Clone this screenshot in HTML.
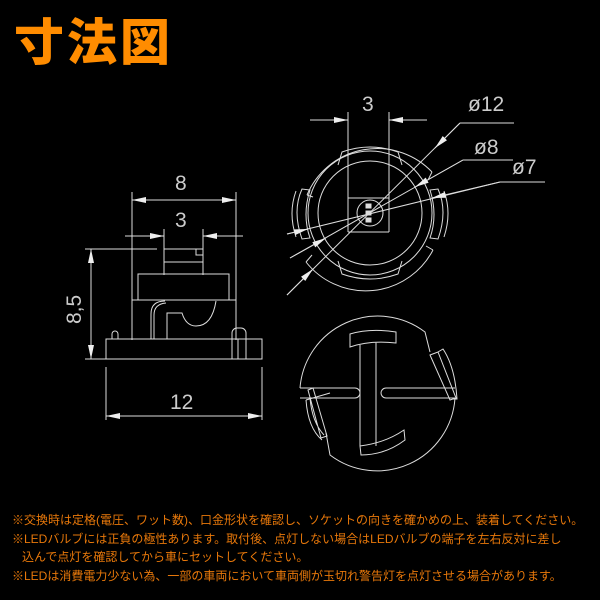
<!DOCTYPE html>
<html><head><meta charset="utf-8"><style>
html,body{margin:0;padding:0;background:#000;width:600px;height:600px;overflow:hidden}
.t{position:absolute;left:14px;top:8px;color:#ff8c00;font:900 50px "Noto Sans CJK JP",sans-serif;letter-spacing:3px;line-height:62px}
.n{position:absolute;left:12px;top:511px;color:#e8780a;font:12px "Liberation Sans","Noto Sans CJK JP",sans-serif;line-height:18.5px;white-space:nowrap}
</style></head><body>
<div class="t">寸法図</div>
<svg width="600" height="600" style="position:absolute;left:0;top:0" fill="none" stroke="#ddd" stroke-width="1">
<defs><marker id="a" markerWidth="14" markerHeight="6" refX="14" refY="3" orient="auto" markerUnits="userSpaceOnUse"><path d="M0,0L14,3L0,6z" fill="#eee" stroke="none"/></marker></defs>
<!-- left view -->
<line x1="132" y1="192" x2="132" y2="340"/><line x1="236" y1="192" x2="236" y2="340"/>
<line x1="184" y1="200" x2="132" y2="200" marker-end="url(#a)"/><line x1="184" y1="200" x2="236" y2="200" marker-end="url(#a)"/>
<line x1="164" y1="229" x2="164" y2="275"/><line x1="203" y1="229" x2="203" y2="275"/>
<line x1="125" y1="236" x2="164" y2="236" marker-end="url(#a)"/><line x1="243" y1="236" x2="203" y2="236" marker-end="url(#a)"/>
<line x1="85" y1="249" x2="157" y2="249"/><line x1="164" y1="249" x2="203" y2="249"/><line x1="164" y1="262" x2="203" y2="262"/>
<rect x="196" y="249" width="7" height="6"/>
<rect x="138" y="274" width="91" height="26"/>
<line x1="132" y1="300" x2="236" y2="300"/>
<rect x="106" y="339" width="156" height="20"/>
<line x1="85" y1="359" x2="262" y2="359"/>
<path d="M151,339V314Q151,301 165,301M154,339V315Q154,304 166,303"/>
<path d="M167,339V313H182Q186,326 196,326Q212,326 216,301"/>
<path d="M112,339v-5a3,3 0 0 1 6,0v5"/>
<path d="M232,339v-6a5,5 0 0 1 5,-5h4a5,5 0 0 1 5,5v6M232,339v20M238,339v20M246,339v20"/>
<line x1="91" y1="304" x2="91" y2="249" marker-end="url(#a)"/><line x1="91" y1="304" x2="91" y2="359" marker-end="url(#a)"/>
<line x1="106" y1="367" x2="106" y2="420"/><line x1="262" y1="367" x2="262" y2="420"/>
<line x1="184" y1="416" x2="106" y2="416" marker-end="url(#a)"/><line x1="184" y1="416" x2="262" y2="416" marker-end="url(#a)"/>
<g fill="#ccc" stroke="none" font-family="Liberation Sans" font-size="21">
<text x="175" y="190">8</text><text x="175" y="227">3</text><text x="170" y="409">12</text>
<text transform="translate(81,324) rotate(-90)">8,5</text>
<text x="362" y="111">3</text><text x="468" y="111">ø12</text><text x="474" y="154">ø8</text><text x="512" y="174">ø7</text>
</g>
<!-- top view -->
<path d="M307,195A76,76 0 0 1 432,172M433,250A76,76 0 0 1 306,262"/>
<path d="M307,195L313,197M432,172L428,180M306,262L312,255M433,250L426,246"/>
<circle cx="370" cy="213" r="62"/><circle cx="370" cy="213" r="52"/><circle cx="370" cy="213" r="13"/>
<path d="M338,165L342,152Q370,142 398,152L402,165M338,261L342,274Q370,284 398,274L402,261"/>
<path d="M302,189q-10,22 0,50l8,-1q-8,-23 0,-48zM296,191q-8,22 0,46M438,189q10,22 0,50l-8,-1q8,-23 0,-48zM444,191q8,22 0,46"/>
<line x1="348" y1="112" x2="348" y2="232"/><line x1="389" y1="112" x2="389" y2="232"/>
<line x1="348" y1="232" x2="389" y2="232"/><line x1="348" y1="198" x2="389" y2="198"/>
<line x1="310" y1="120" x2="348" y2="120" marker-end="url(#a)"/><line x1="427" y1="120" x2="389" y2="120" marker-end="url(#a)"/>
<rect x="366" y="204" width="5" height="4" fill="#ddd"/><rect x="366" y="211" width="5" height="4" fill="#ddd"/><rect x="366" y="218" width="5" height="4" fill="#ddd"/>
<line x1="460" y1="123" x2="514" y2="123"/><line x1="460" y1="123" x2="287" y2="295"/>
<line x1="463" y1="160" x2="513" y2="160"/><line x1="463" y1="160" x2="290" y2="258"/>
<line x1="500" y1="182" x2="545" y2="182"/><line x1="500" y1="182" x2="287" y2="234"/>
<line x1="460" y1="123" x2="435" y2="148" marker-end="url(#a)"/>
<line x1="463" y1="160" x2="415" y2="187" marker-end="url(#a)"/>
<line x1="500" y1="182" x2="432" y2="198" marker-end="url(#a)"/>
<line x1="287" y1="295" x2="313" y2="269" marker-end="url(#a)"/>
<line x1="290" y1="258" x2="326" y2="238" marker-end="url(#a)"/>
<line x1="287" y1="234" x2="308" y2="229" marker-end="url(#a)"/>
<!-- bottom view -->
<path d="M300,388A78,78 0 0 1 425,332L430,352M306,400L330,393M455,398A78,78 0 0 1 330,455L326,433"/>
<path d="M300,388L355,388M300,398L355,398M355,388a5,5 0 0 1 0,10M386,388L455,388M386,398L455,398M386,388a5,5 0 0 0 0,10"/>
<path d="M350,334L350,347Q370,340 396,343L396,332Q370,328 350,334zM360,345V446M376,342V446M360,446L361,455Q385,455 405,440L404,430Q385,443 360,446"/>
<path d="M430,355l8,-3l18,46l-6,2zM438,352l5,-3q12,18 14,50l-4,0M308,390l5,-2l14,48l-6,2zM306,400q2,28 16,40M310,398q2,24 14,37"/>
</svg>
<div class="n">※交換時は定格(電圧、ワット数)、口金形状を確認し、ソケットの向きを確かめの上、装着してください。<br>※LEDバルブには正負の極性あります。取付後、点灯しない場合はLEDバルブの端子を左右反対に差し<br>&nbsp;&nbsp;&nbsp;込んで点灯を確認してから車にセットしてください。<br>※LEDは消費電力少ない為、一部の車両において車両側が玉切れ警告灯を点灯させる場合があります。</div>
</body></html>
